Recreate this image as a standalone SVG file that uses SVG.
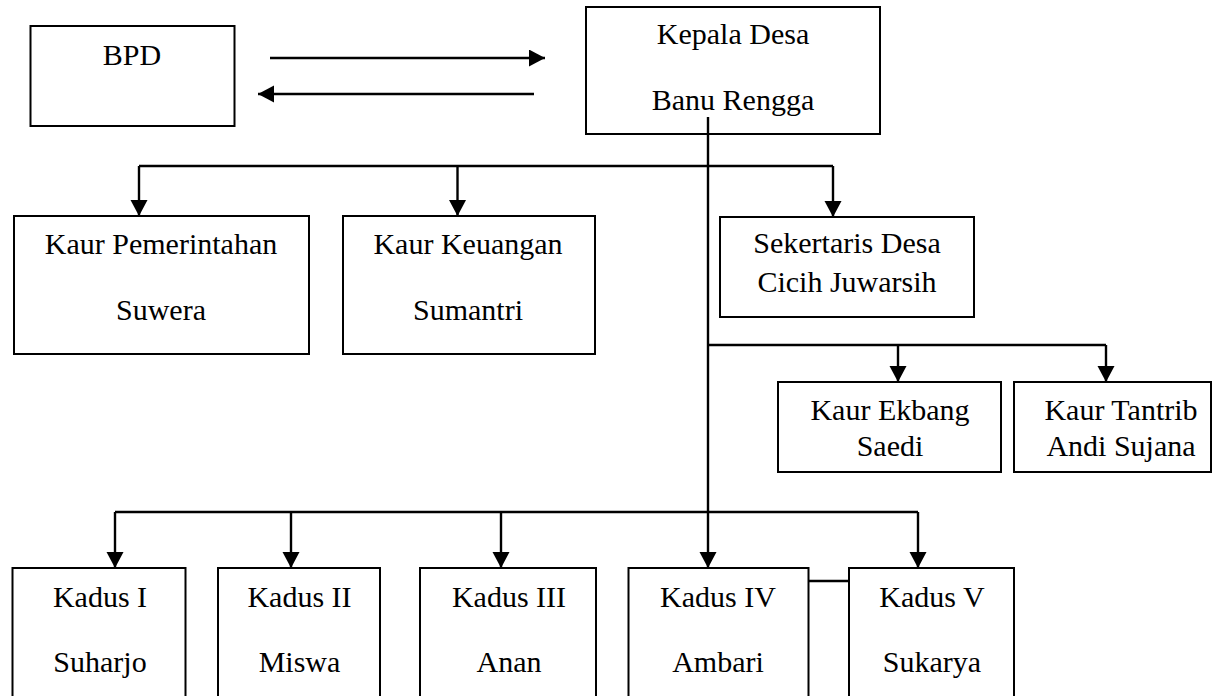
<svg xmlns="http://www.w3.org/2000/svg" width="1213" height="696" viewBox="0 0 1213 696">
<style>
.box{fill:#fff;stroke:#000;stroke-width:2}
.t{font-family:"Liberation Serif","Times New Roman",serif;font-size:30px;fill:#000;text-anchor:middle}
.c{fill:none;stroke:#000;stroke-width:2.4}
.a{marker-end:url(#arr)}
</style>
<defs>
<marker id="arr" markerUnits="userSpaceOnUse" markerWidth="18" markerHeight="18" refX="16" refY="8.5" orient="auto">
<path d="M0,0 L16,8.5 L0,17 z" fill="#000"/>
</marker>
</defs>
<rect width="1213" height="696" fill="#fff"/>
<g id="connectors">
<line class="c a" x1="270" y1="58" x2="545" y2="58"/>
<line class="c a" x1="534" y1="94" x2="258" y2="94"/>
<line class="c a" x1="708" y1="117" x2="708" y2="568"/>
<line class="c" x1="139" y1="166" x2="833" y2="166"/>
<line class="c a" x1="139" y1="166" x2="139" y2="216"/>
<line class="c a" x1="457.5" y1="166" x2="457.5" y2="216"/>
<line class="c a" x1="833" y1="166" x2="833" y2="217"/>
<line class="c" x1="708" y1="345" x2="1106" y2="345"/>
<line class="c a" x1="898" y1="345" x2="898" y2="382"/>
<line class="c a" x1="1106" y1="345" x2="1106" y2="382"/>
<line class="c" x1="115" y1="512" x2="918" y2="512"/>
<line class="c a" x1="115" y1="512" x2="115" y2="568"/>
<line class="c a" x1="291" y1="512" x2="291" y2="568"/>
<line class="c a" x1="501" y1="512" x2="501" y2="568"/>
<line class="c a" x1="918" y1="512" x2="918" y2="568"/>
<line class="c" x1="808" y1="581" x2="849" y2="581"/>
</g>
<g id="bpd"><rect class="box" x="30.5" y="26" width="204" height="100"/><text class="t" x="132" y="65">BPD</text></g>
<g id="kepala-desa"><rect class="box" x="586" y="7" width="294" height="127"/><text class="t" x="733" y="44">Kepala Desa</text><text class="t" x="733" y="110">Banu Rengga</text></g>
<line class="c" x1="708" y1="117" x2="708" y2="134"/>
<g id="kaur-pemerintahan"><rect class="box" x="14" y="216" width="295" height="138"/><text class="t" x="161" y="254">Kaur Pemerintahan</text><text class="t" x="161" y="320">Suwera</text></g>
<g id="kaur-keuangan"><rect class="box" x="343" y="216" width="252" height="138"/><text class="t" x="468" y="254">Kaur Keuangan</text><text class="t" x="468" y="320">Sumantri</text></g>
<g id="sekertaris-desa"><rect class="box" x="720" y="217" width="254" height="100"/><text class="t" x="847" y="253">Sekertaris Desa</text><text class="t" x="847" y="292">Cicih Juwarsih</text></g>
<g id="kaur-ekbang"><rect class="box" x="778" y="382" width="223" height="90"/><text class="t" x="890" y="420">Kaur Ekbang</text><text class="t" x="890" y="456">Saedi</text></g>
<g id="kaur-tantrib"><rect class="box" x="1014" y="382" width="197" height="90"/><text class="t" x="1121" y="420">Kaur Tantrib</text><text class="t" x="1121" y="456">Andi Sujana</text></g>
<g id="kadus-1"><rect class="box" x="12.5" y="568" width="173" height="140"/><text class="t" x="100" y="607">Kadus I</text><text class="t" x="100" y="672">Suharjo</text></g>
<g id="kadus-2"><rect class="box" x="218" y="568" width="162" height="140"/><text class="t" x="299.5" y="607">Kadus II</text><text class="t" x="299.5" y="672">Miswa</text></g>
<g id="kadus-3"><rect class="box" x="420" y="568" width="176" height="140"/><text class="t" x="509" y="607">Kadus III</text><text class="t" x="509" y="672">Anan</text></g>
<g id="kadus-4"><rect class="box" x="628.5" y="568" width="180" height="140"/><text class="t" x="718" y="607">Kadus IV</text><text class="t" x="718" y="672">Ambari</text></g>
<g id="kadus-5"><rect class="box" x="849" y="568" width="165" height="140"/><text class="t" x="932" y="607">Kadus V</text><text class="t" x="932" y="672">Sukarya</text></g>
</svg>
